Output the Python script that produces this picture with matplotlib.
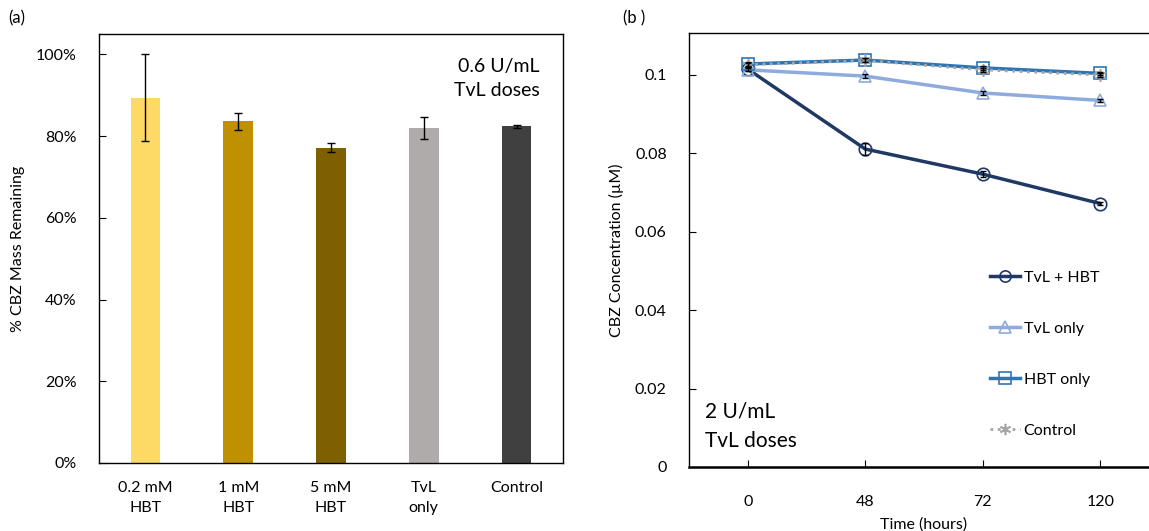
import matplotlib
matplotlib.use("Agg")
import matplotlib.pyplot as plt
from matplotlib.ticker import PercentFormatter

plt.rcParams['font.family'] = ['Lato', 'DejaVu Sans']
plt.rcParams['font.size'] = 11.5

# (a) bar chart: % CBZ mass remaining, 0.6 U/mL TvL doses
bar_labels = ['0.2 mM\nHBT', '1 mM\nHBT', '5 mM\nHBT', 'TvL\nonly', 'Control']
bar_values = [0.894, 0.836, 0.772, 0.821, 0.824]
bar_errors = [0.107, 0.020, 0.011, 0.027, 0.004]
bar_colors = ['#FDD965', '#BF9000', '#7F6000', '#AFABAB', '#404040']

# (b) CBZ concentration over time, 2 U/mL TvL doses
time_labels = ['0', '48', '72', '120']
tvl_hbt = [0.1015, 0.0811, 0.0747, 0.0672]
tvl_hbt_err = [0.0005, 0.0015, 0.0007, 0.0003]
tvl_only = [0.1013, 0.0997, 0.0954, 0.0935]
tvl_only_err = [0.0004, 0.0005, 0.0005, 0.0003]
hbt_only = [0.1028, 0.1038, 0.1018, 0.1004]
hbt_only_err = [0.0005, 0.0005, 0.0005, 0.0004]
control = [0.1026, 0.1037, 0.1013, 0.1000]
control_err = [0.0005, 0.0005, 0.0005, 0.0004]

W, H = 1149, 531
fig = plt.figure(figsize=(W / 100, H / 100), dpi=100)

# ---- panel (a)
ax1 = fig.add_axes([99 / W, (H - 463) / H, 464 / W, (463 - 34) / H])
x = range(len(bar_labels))
ax1.bar(x, bar_values, width=0.32, color=bar_colors, zorder=2)
ax1.errorbar(x, bar_values, yerr=bar_errors, fmt='none', ecolor='black',
             elinewidth=1, capsize=3, capthick=1, zorder=3)
ax1.set_xlim(-0.5, len(bar_labels) - 0.5)
ax1.set_ylim(0, 1.05)
ax1.set_yticks([0, 0.2, 0.4, 0.6, 0.8, 1.0])
ax1.yaxis.set_major_formatter(PercentFormatter(1.0, decimals=0))
ax1.set_xticks(list(x))
ax1.set_xticklabels(bar_labels, linespacing=1.5)
ax1.tick_params(axis='x', length=0, pad=13)
ax1.tick_params(axis='y', direction='in', length=5, pad=16)
ax1.set_ylabel('% CBZ Mass Remaining', labelpad=8)
for s in ax1.spines.values():
    s.set_linewidth(1.0)
ax1.text(0.95, 0.945, '0.6 U/mL\nTvL doses', transform=ax1.transAxes,
         ha='right', va='top', fontsize=14, linespacing=1.5)
fig.text(8 / W, 1 - 18 / H, '(a)', ha='left', va='center', fontsize=12)

# ---- panel (b)
ax2 = fig.add_axes([689 / W, (H - 467) / H, (1159 - 689) / W, (467 - 33) / H])
t = range(len(time_labels))
series = [
    (tvl_hbt, tvl_hbt_err, 'TvL + HBT', '#203864', '-', 'o', 2.5),
    (tvl_only, tvl_only_err, 'TvL only', '#8FAADC', '-', '^', 2.5),
    (hbt_only, hbt_only_err, 'HBT only', '#2E75B6', '-', 's', 2.5),
    (control, control_err, 'Control', '#A5A5A5', ':', (6, 2, 0), 2.0),
]
for vals, errs, lab, col, ls, mk, lw in series:
    ax2.plot(t, vals, color=col, linestyle=ls, linewidth=lw, marker=mk,
             markersize=9, mfc='none', mec=col, mew=1.2, label=lab, zorder=3)
    ax2.errorbar(t, vals, yerr=errs, fmt='none', ecolor='black',
                 elinewidth=1, capsize=2.5, capthick=1, zorder=4)
ax2.set_xlim(-0.5, len(time_labels) - 0.5)
ax2.set_ylim(0, 0.1107)
ax2.set_yticks([0, 0.02, 0.04, 0.06, 0.08, 0.1])
ax2.set_yticklabels(['0', '0.02', '0.04', '0.06', '0.08', '0.1'])
ax2.set_xticks(list(t))
ax2.set_xticklabels(time_labels)
ax2.tick_params(axis='x', direction='in', length=5, pad=20)
ax2.tick_params(axis='y', direction='in', length=5, pad=16)
ax2.spines['right'].set_visible(False)
ax2.spines['bottom'].set_linewidth(1.8)
ax2.spines['left'].set_linewidth(1.0)
ax2.spines['top'].set_linewidth(1.0)
ax2.set_xlabel('Time (hours)', labelpad=6)
ax2.set_ylabel('CBZ Concentration (µM)', labelpad=8)
ax2.text(0.035, 0.094, '2 U/mL\nTvL doses', transform=ax2.transAxes,
         ha='left', va='center', fontsize=15, linespacing=1.6)
leg = ax2.legend(loc='upper left', bbox_to_anchor=(0.61, 0.485), frameon=False,
                 handlelength=1.9, handletextpad=0.2, labelspacing=2.3,
                 fontsize=11.5, markerscale=0.9)
fig.text(623 / W, 1 - 18 / H, '(b )', ha='left', va='center', fontsize=12)

fig.savefig('out.png', dpi=100)
